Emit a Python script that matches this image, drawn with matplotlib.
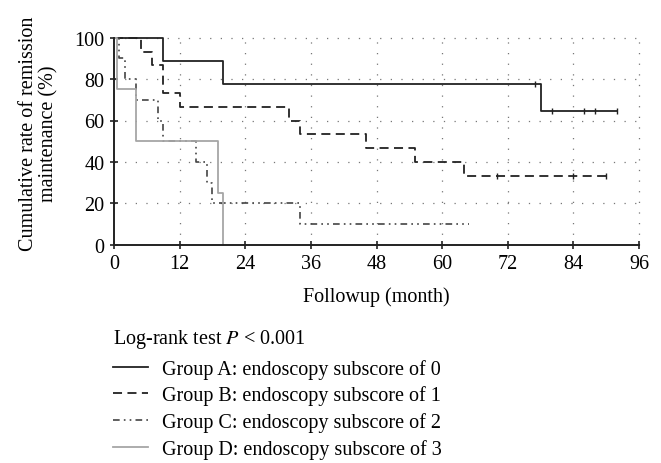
import matplotlib
matplotlib.use("Agg")
import matplotlib.pyplot as plt
import numpy as np

# Kaplan-Meier step data (months, % in remission)
a_time = [0, 9, 20, 78, 92]
a_surv = [100, 88.9, 77.8, 64.8, 64.8]
a_cens_t = [77, 80, 86, 88, 92]
a_cens_s = [77.8, 64.8, 64.8, 64.8, 64.8]

b_time = [0, 5, 7, 9, 12, 32, 34, 46, 55, 64, 90]
b_surv = [100, 93.3, 86.7, 73.3, 66.7, 60, 53.3, 46.7, 40, 33.3, 33.3]
b_cens_t = [70, 84, 90]
b_cens_s = [33.3, 33.3, 33.3]

c_time = [0, 1, 2, 4, 8, 9, 15, 17, 18, 34, 65]
c_surv = [100, 90, 80, 70, 60, 50, 40, 30, 20, 10, 10]

d_time = [0, 0.5, 4, 19, 20]
d_surv = [100, 75, 50, 25, 0]

labels = ["Group A: endoscopy subscore of 0",
          "Group B: endoscopy subscore of 1",
          "Group C: endoscopy subscore of 2",
          "Group D: endoscopy subscore of 3"]
x_ticks = [0, 12, 24, 36, 48, 60, 72, 84, 96]
y_ticks = [0, 20, 40, 60, 80, 100]

plt.rcParams['font.family'] = ['Liberation Serif', 'DejaVu Serif']
plt.rcParams['mathtext.fontset'] = 'stix'
plt.rcParams['font.size'] = 14.5

fig = plt.figure(figsize=(6.61, 4.64), dpi=100)
ax = fig.add_axes([114/661, 1-245.7/464, 525/661, 207/464])

# dotted grid
for xv in x_ticks[1:]:
    ax.plot([xv, xv], [0, 100], color='#777777', lw=0.9, ls=(0, (1, 7.5)), zorder=0, clip_on=False)
for yv in y_ticks[1:]:
    ax.plot([0, 96], [yv, yv], color='#777777', lw=0.9, ls=(0, (1, 7.5)), zorder=0, clip_on=False)

la, = ax.step(a_time, a_surv, where='post', color='#222222', lw=1.3, clip_on=False)
lb, = ax.step(b_time, b_surv, where='post', color='#222222', lw=1.3, ls=(0, (5, 3)), clip_on=False)
lc, = ax.step(c_time, c_surv, where='post', color='#444444', lw=1.2,
              ls=(0, (4, 2.5, 1, 2.5, 1, 2.5)), clip_on=False)
ld, = ax.step(d_time, d_surv, where='post', color='#a6a6a6', lw=1.3, clip_on=False)
ax.plot(a_cens_t, a_cens_s, ls='none', marker='|', ms=4, color='#222222', clip_on=False)
ax.plot(b_cens_t, b_cens_s, ls='none', marker='|', ms=4, color='#222222', clip_on=False)

ax.set_xlim(0, 96)
ax.set_ylim(0, 100)
ax.set_xticks(x_ticks)
ax.set_yticks(y_ticks)
for s in ['top', 'right']:
    ax.spines[s].set_visible(False)
for s in ['left', 'bottom']:
    ax.spines[s].set_linewidth(1.4)
    ax.spines[s].set_color('#222222')
ax.tick_params(direction='inout', length=6, width=1.2, color='#222222', pad=4)

ax.set_xlabel("Followup (month)")
ax.xaxis.label.set_va('center')
ax.xaxis.set_label_coords(0.5, (245.7-297)/207)
ax.set_ylabel("Cumulative rate of remission\nmaintenance (%)", linespacing=1.1)
ax.yaxis.label.set_va('center')
ax.yaxis.set_label_coords((39-114)/525, (245.7-134)/207)

fig.text(113/661, 1-340/464, "Log-rank test $P$ < 0.001", va='center', ha='left')
fig.legend([la, lb, lc, ld], labels, loc='upper left', bbox_to_anchor=(113/661, 1-360/464),
           frameon=False, handlelength=1.74, handletextpad=0.7, labelspacing=0.33,
           borderpad=0, borderaxespad=0)

plt.savefig("out.png", dpi=100)
